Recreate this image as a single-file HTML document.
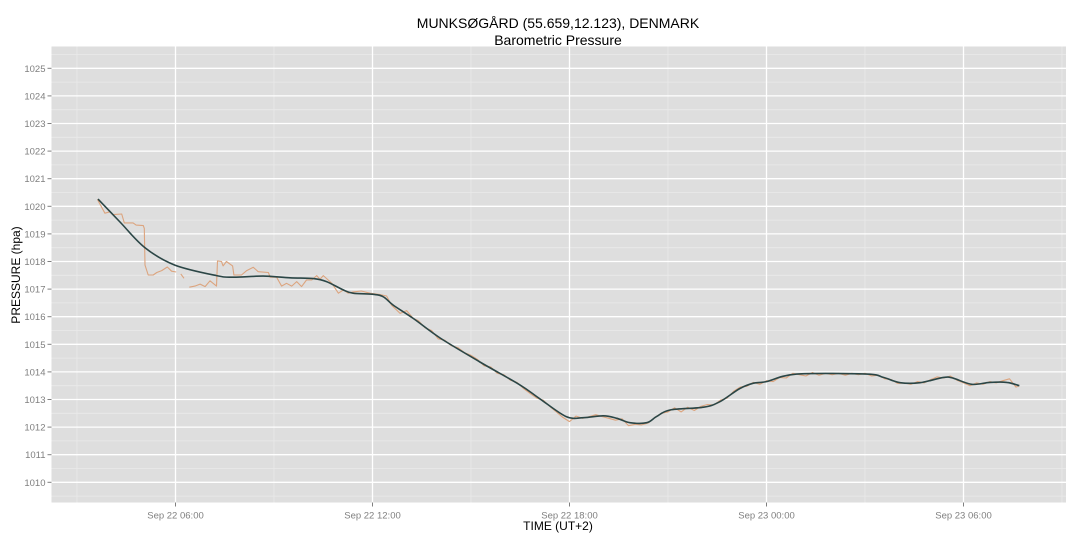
<!DOCTYPE html>
<html><head><meta charset="utf-8"><style>
html,body{margin:0;padding:0;background:#fff;}
svg{display:block;font-family:"Liberation Sans",Arial,sans-serif;}
</style></head><body>
<svg id="chart" width="1080" height="540" viewBox="0 0 1080 540">
<text x="558" y="28" text-anchor="middle" font-size="14" fill="#000">MUNKSØGÅRD (55.659,12.123), DENMARK</text>
<text x="558" y="45" text-anchor="middle" font-size="14" fill="#000">Barometric Pressure</text>
<rect x="51.5" y="46.5" width="1014.5" height="456" fill="#dedede"/>
<g id="grid"></g>
<g id="series"></g>
<g id="axes"></g>
<text x="558" y="530" text-anchor="middle" font-size="12" fill="#000">TIME (UT+2)</text>
<text transform="translate(20,275) rotate(-90)" text-anchor="middle" font-size="12" fill="#000">PRESSURE (hpa)</text>
</svg>
<script>
const yTicks = [1010,1011,1012,1013,1014,1015,1016,1017,1018,1019,1020,1021,1022,1023,1024,1025];
const xTickHours = [6,12,18,24,30];
const xTickLabels = ["Sep 22 06:00","Sep 22 12:00","Sep 22 18:00","Sep 23 00:00","Sep 23 06:00"];
const rawHours = [3.62,3.85,4.0,4.1,4.36,4.44,4.71,4.8,5.02,5.05,5.07,5.17,5.32,5.43,5.58,5.75,5.88,6.02,null,6.16,6.26,null,6.42,6.59,6.75,6.9,7.05,7.25,7.28,7.4,7.45,7.55,7.74,7.78,8.01,8.17,8.37,8.52,8.83,8.88,9.08,9.23,9.38,9.54,9.69,9.84,9.99,10.15,10.3,10.4,10.5,10.65,10.76,10.96,11.11,11.26,11.41,11.66,11.92,12.23,12.43,12.58,12.84,13.04,13.24,
13.4,13.6,13.8,14.0,14.2,14.4,14.6,14.8,15.0,15.2,15.4,15.6,15.8,16.0,16.2,16.4,16.6,16.8,17.0,17.2,17.4,17.6,17.8,18.0,18.2,18.4,18.6,18.8,19.0,19.2,19.4,19.6,19.8,20.0,20.2,20.4,20.6,20.8,21.0,21.2,21.4,21.6,21.8,22.0,22.2,22.4,22.6,22.8,23.0,23.2,23.4,23.6,23.8,24.0,24.2,24.4,24.6,24.8,25.0,25.2,25.4,25.6,25.8,26.0,26.2,26.4,26.6,26.8,27.0,27.2,27.4,27.6,27.8,28.0,28.2,28.4,28.6,28.8,29.0,29.2,29.4,29.6,29.8,30.0,30.2,30.4,30.6,30.8,31.0,31.2,31.4,31.6,31.7];
const rawPressure = [1020.25,1019.75,1019.8,1019.7,1019.72,1019.4,1019.4,1019.32,1019.3,1019.2,1017.87,1017.51,1017.51,1017.6,1017.67,1017.8,1017.65,1017.62,null,1017.55,1017.39,null,1017.07,1017.11,1017.18,1017.09,1017.3,1017.11,1018.02,1018.0,1017.84,1018.0,1017.84,1017.51,1017.51,1017.67,1017.79,1017.63,1017.6,1017.43,1017.43,1017.11,1017.21,1017.11,1017.27,1017.09,1017.33,1017.33,1017.49,1017.36,1017.49,1017.33,1017.21,1016.85,1016.97,1016.85,1016.9,1016.93,1016.85,1016.8,1016.75,1016.42,1016.12,1016.22,1015.94,
1015.85,1015.6,1015.5,1015.2,1015.15,1014.95,1014.88,1014.7,1014.6,1014.45,1014.22,1014.18,1013.95,1013.9,1013.7,1013.62,1013.4,1013.22,1013.05,1012.98,1012.75,1012.55,1012.35,1012.2,1012.4,1012.32,1012.38,1012.45,1012.38,1012.32,1012.25,1012.3,1012.05,1012.1,1012.08,1012.15,1012.35,1012.5,1012.55,1012.7,1012.55,1012.72,1012.6,1012.75,1012.82,1012.8,1012.98,1013.05,1013.3,1013.45,1013.48,1013.62,1013.55,1013.68,1013.65,1013.8,1013.78,1013.95,1013.9,1013.85,1013.98,1013.88,1013.95,1013.9,1013.95,1013.88,1013.95,1013.9,1013.95,1013.85,1013.88,1013.75,1013.72,1013.58,1013.6,1013.55,1013.65,1013.6,1013.72,1013.82,1013.78,1013.85,1013.7,1013.6,1013.5,1013.6,1013.55,1013.65,1013.6,1013.68,1013.75,1013.45,1013.5];
const smoothHours = [3.64,4.31,5.07,5.98,7.25,7.76,8.67,9.49,10.2,10.6,11.11,11.41,12.02,12.33,12.63,13.24,14.06,15.27,16.49,17.1,17.9,18.42,19.03,19.44,19.84,20.35,20.65,21.06,22.08,22.58,23.19,23.6,24.0,24.92,27.05,27.56,28.07,28.68,29.39,29.69,30.25,30.8,31.32,31.7];
const smoothPressure = [1020.26,1019.43,1018.5,1017.87,1017.49,1017.43,1017.47,1017.41,1017.38,1017.27,1016.97,1016.85,1016.81,1016.72,1016.42,1015.94,1015.23,1014.36,1013.53,1013.02,1012.38,1012.34,1012.41,1012.32,1012.16,1012.16,1012.38,1012.62,1012.72,1012.92,1013.4,1013.59,1013.65,1013.92,1013.92,1013.8,1013.61,1013.61,1013.8,1013.77,1013.55,1013.62,1013.62,1013.5];

const NS='http://www.w3.org/2000/svg';
const L=51.5,R=1066,T=46.5,B=502.5;
function xS(h){return 175.5+(h-6)*(197/6);}
function yS(p){return 482.3-(p-1010)*27.6;}
function mk(tag,attrs,parent){const e=document.createElementNS(NS,tag);for(const k in attrs)e.setAttribute(k,attrs[k]);parent.appendChild(e);return e;}
const grid=document.getElementById('grid'),axes=document.getElementById('axes'),series=document.getElementById('series');
for(let i=0;i<yTicks.length-1;i++){const y=(yS(yTicks[i])+yS(yTicks[i+1]))/2;
 const g=mk('line',{x1:L,x2:R,y1:y,y2:y,stroke:'#eaeaea','stroke-width':0.8},grid);
 
 }
{const y=yS(yTicks[0])+13.8;const g=mk('line',{x1:L,x2:R,y1:y,y2:y,stroke:'#eaeaea','stroke-width':0.8},grid);
 
 }
{const y=yS(yTicks[yTicks.length-1])-13.8;const g=mk('line',{x1:L,x2:R,y1:y,y2:y,stroke:'#eaeaea','stroke-width':0.8},grid);
 
 }
[xTickHours[0]-3].concat(xTickHours.map(h=>h+3)).forEach(h=>{const x=xS(h);
 const g=mk('line',{x1:x,x2:x,y1:T,y2:B,stroke:'#eaeaea','stroke-width':0.8},grid);
 
 });
yTicks.forEach(v=>{const y=yS(v);
 const g=mk('line',{x1:L,x2:R,y1:y,y2:y,stroke:'#fff','stroke-width':1.3},grid);
 
 
 const t=mk('line',{x1:L-4,x2:L,y1:y,y2:y,stroke:'#7f7f7f','stroke-width':1},axes);
 
 
 const tx=mk('text',{x:L-6,y:y+3.5,'text-anchor':'end','font-size':'9.5',fill:'#7f7f7f'},axes);
 tx.textContent=v;
 
 });
xTickHours.forEach((h,i)=>{const x=xS(h);
 const g=mk('line',{x1:x,x2:x,y1:T,y2:B,stroke:'#fff','stroke-width':1.3},grid);
 
 
 const t=mk('line',{x1:x,x2:x,y1:B,y2:B+4,stroke:'#7f7f7f','stroke-width':1},axes);
 
 
 const tx=mk('text',{x:x,y:B+16,'text-anchor':'middle','font-size':'9.5',fill:'#7f7f7f'},axes);
 tx.textContent=xTickLabels[i];
 
 });
let d='',pen=false;
for(let i=0;i<rawHours.length;i++){
 if(rawHours[i]===null||rawPressure[i]===null){pen=false;continue;}
 d+=(pen?'L':'M')+xS(rawHours[i]).toFixed(1)+','+yS(rawPressure[i]).toFixed(1);pen=true;}
const raw=mk('path',{d:d,fill:'none',stroke:'#dca47e','stroke-width':1.1,'stroke-linejoin':'round'},series);


// Catmull-Rom smooth curve
const pts=smoothHours.map((h,i)=>[xS(h),yS(smoothPressure[i])]);
let ds='M'+pts[0][0].toFixed(1)+','+pts[0][1].toFixed(1);
for(let i=0;i<pts.length-1;i++){
 const p0=pts[Math.max(0,i-1)],p1=pts[i],p2=pts[i+1],p3=pts[Math.min(pts.length-1,i+2)];
 const c1=[p1[0]+(p2[0]-p0[0])/6,p1[1]+(p2[1]-p0[1])/6];
 const c2=[p2[0]-(p3[0]-p1[0])/6,p2[1]-(p3[1]-p1[1])/6];
 ds+='C'+c1[0].toFixed(1)+','+c1[1].toFixed(1)+' '+c2[0].toFixed(1)+','+c2[1].toFixed(1)+' '+p2[0].toFixed(1)+','+p2[1].toFixed(1);}
const sm=mk('path',{d:ds,fill:'none',stroke:'#2b4646','stroke-width':1.6,'stroke-linejoin':'round'},series);


</script>
</body></html>
